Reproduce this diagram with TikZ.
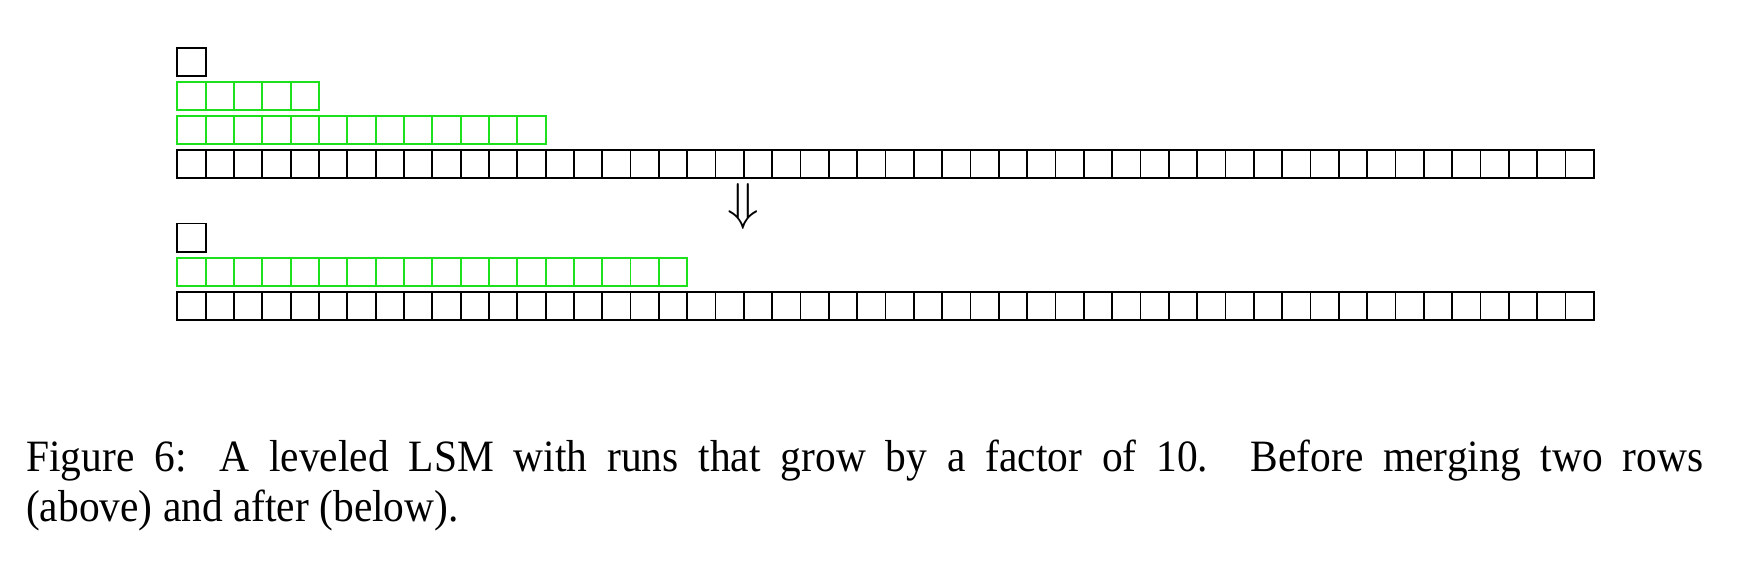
\documentclass[tikz,border=0pt]{standalone}
\usepackage{graphicx}
\usepackage{fontspec}
\setmainfont[FakeStretch=0.925]{Liberation Serif}
\definecolor{cellgreen}{RGB}{30,225,30}
\begin{document}
\begin{tikzpicture}[x=1pt,y=1pt,
  cell/.style={draw=black,line width=1.8pt,minimum width=28.33pt,minimum height=28.33pt,inner sep=0pt,outer sep=0pt},
  gcell/.style={cell,draw=cellgreen},
  caption/.style={anchor=base west,inner sep=0pt,font=\fontsize{44.8}{50}\selectfont}]
\useasboundingbox (0,0) rectangle (1762,-566);
% before
\node[cell] (a0) at (191.47,-62) {};
\foreach \i in {0,...,4} \node[gcell] (b\i) at ({191.47+\i*28.33},-96) {};
\foreach \i in {0,...,12} \node[gcell] (c\i) at ({191.47+\i*28.33},-130) {};
\foreach \i in {0,...,49} \node[cell] (d\i) at ({191.47+\i*28.33},-164) {};
% arrow
\node[inner sep=0pt,font=\fontsize{24}{24}\selectfont] (arr) at (743.4,-206.4) {\scalebox{2.08}{$\Downarrow$}};
% after
\node[cell] (e0) at (191.47,-237.6) {};
\foreach \i in {0,...,17} \node[gcell] (f\i) at ({191.47+\i*28.33},-271.8) {};
\foreach \i in {0,...,49} \node[cell] (g\i) at ({191.47+\i*28.33},-305.8) {};
% caption
\node[caption] (cap1) at (26,-471) {\makebox[1677pt][s]{Figure 6: A leveled LSM with runs that grow by a factor of 10. Before merging two rows}};
\node[caption] (cap2) at (26,-521) {(above) and after (below).};
\end{tikzpicture}
\end{document}
